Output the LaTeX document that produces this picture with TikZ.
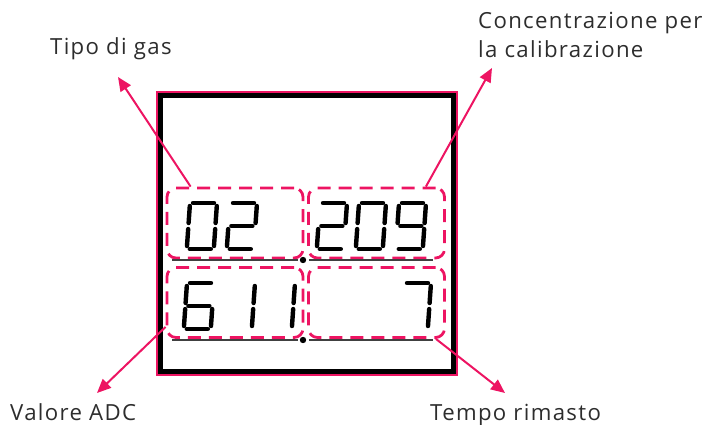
\documentclass[tikz,border=0pt]{standalone}
\usepackage{fontspec}
\setmainfont[LetterSpace=6]{Open Sans}
\usetikzlibrary{arrows.meta, positioning, calc}

\definecolor{accent}{RGB}{237,20,98}
\definecolor{labelgray}{RGB}{45,45,45}

\newcommand{\sega}{\draw[lcd] (3,0) -- (24,0);}
\newcommand{\segb}{\draw[lcd] (27,3) -- (27,20);}
\newcommand{\segc}{\draw[lcd] (27,26) -- (27,43);}
\newcommand{\segd}{\draw[lcd] (3,46) -- (24,46);}
\newcommand{\sege}{\draw[lcd] (0,26) -- (0,43);}
\newcommand{\segf}{\draw[lcd] (0,3) -- (0,20);}
\newcommand{\segg}{\draw[lcd] (3,23) -- (24,23);}
\newcommand{\lcddigit}[3]{%
  \begin{scope}[shift={(#1,#2)}, xslant=0.07]
    \foreach \s in {#3} {\csname seg\s\endcsname}
  \end{scope}}

\begin{document}
\begin{tikzpicture}[
  x=1pt, y=-1pt,
  font=\fontsize{22.2}{29}\selectfont,
  lbl/.style={text=labelgray, inner sep=0pt, align=left},
  slot/.style={draw=accent, line width=2.8pt, dash pattern=on 13pt off 8pt, rounded corners=9pt, minimum width=136pt, minimum height=70pt, inner sep=0pt},
  lcd/.style={line width=4.4pt, line cap=round, black},
  rule/.style={line width=2.4pt, black!75},
  arr/.style={-{Triangle[length=14pt, width=12pt]}, accent, line width=2pt}
]
\useasboundingbox (0,0) rectangle (710,425);

\draw[line width=5pt] (160,96) rectangle (453,371);
\draw[accent, line width=2pt] (156.5,92.5) rectangle (456.5,374.5);

\node[slot] (gas) at (235,223) {};
\node[slot] (conc) at (376.5,223) {};
\node[slot] (adc) at (235,302.5) {};
\node[slot] (time) at (376.5,302.5) {};

\draw[rule] (172,260) -- (298,260);
\draw[rule] (309,260) -- (433,260);
\fill (303,260) circle (3.2pt);
\draw[rule] (172,340) -- (298,340);
\draw[rule] (309,340) -- (433,340);
\fill (303,340) circle (3.2pt);

\lcddigit{190}{203}{a,b,c,d,e,f}
\lcddigit{230}{203}{a,b,g,e,d}
\lcddigit{320}{203}{a,b,g,e,d}
\lcddigit{359}{203}{a,b,c,d,e,f}
\lcddigit{399}{203}{a,b,c,d,f,g}
\lcddigit{187}{283}{a,f,g,e,d,c}
\lcddigit{228}{283}{b,c}
\lcddigit{268}{283}{b,c}
\lcddigit{404}{283}{a,b,c}

\node[lbl, anchor=base west] (gaslbl) at (50,55) {Tipo di gas};
\node[lbl, anchor=north west] (conclbl) at (478,12) {Concentrazione per\\la calibrazione};
\node[lbl, anchor=base west] (adclbl) at (10,420) {Valore ADC};
\node[lbl, anchor=base west] (timelbl) at (430,420) {Tempo rimasto};

\coordinate (gastip) at (118,77);
\coordinate (conctip) at (492,68);
\coordinate (adctip) at (97,393);
\coordinate (timetip) at (505,393);

\draw[arr] ($(gas.north west)+(25,0)$) -- (gastip);
\draw[arr] ($(conc.north east)+(-20,0)$) -- (conctip);
\draw[arr] ($(adc.south west)+(0,-12)$) -- (adctip);
\draw[arr] ($(time.south east)+(-10,0)$) -- (timetip);
\end{tikzpicture}
\end{document}
